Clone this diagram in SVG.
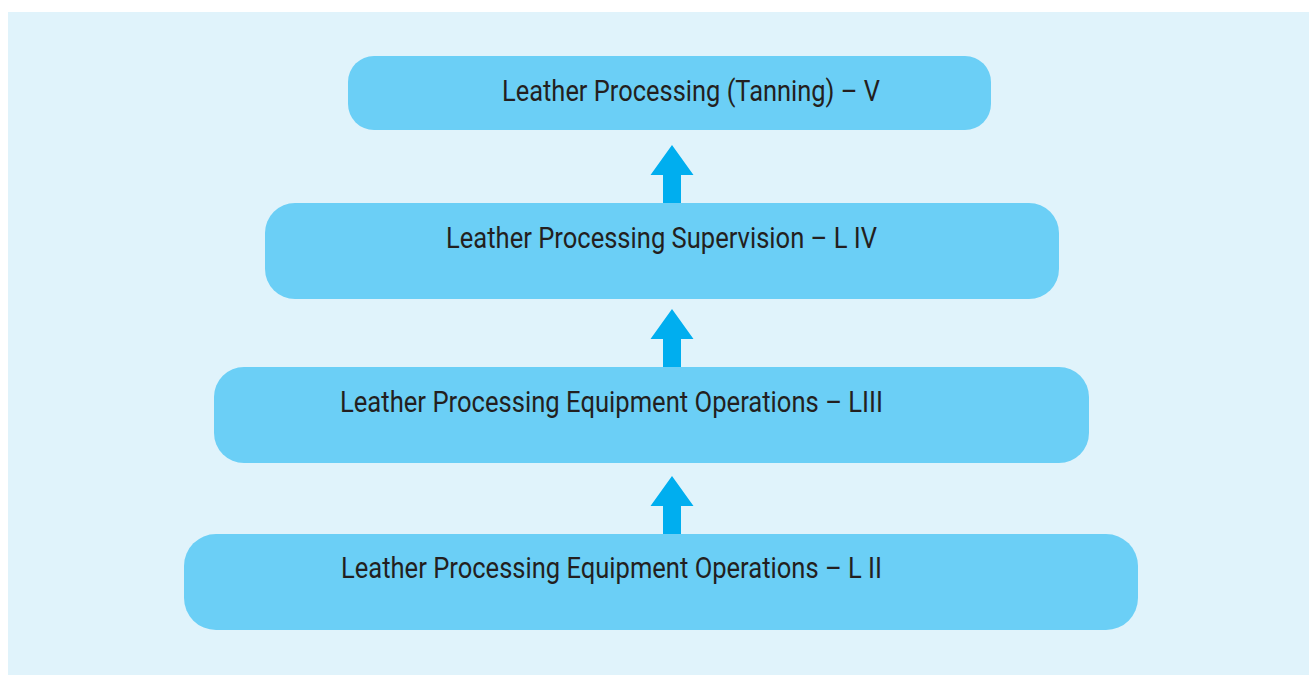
<svg xmlns="http://www.w3.org/2000/svg" width="1309" height="675" viewBox="0 0 1309 675">
<style>
.box{fill:#6BCFF6}
.lbl{font-family:Roboto,"Liberation Sans",sans-serif;font-size:29px;fill:#231F20}
.arr{fill:#00AEEF}
</style>
<rect x="0" y="0" width="1309" height="675" fill="#FFFFFF"/>
<rect x="8" y="12" width="1301" height="663" fill="#E0F3FB"/>
<g id="connectors">
<polygon class="arr" points="672,145 693.5,175 681,175 681,203 663,203 663,175 650.5,175"/>
<polygon class="arr" points="672,309 693.5,339 681,339 681,367 663,367 663,339 650.5,339"/>
<polygon class="arr" points="672,476 693.5,506 681,506 681,534 663,534 663,506 650.5,506"/>
</g>
<g id="node-v">
<rect class="box" x="348" y="56" width="643" height="74" rx="26"/>
<text class="lbl" x="502" y="101" textLength="378" lengthAdjust="spacingAndGlyphs">Leather Processing (Tanning) – V</text>
</g>
<g id="node-iv">
<rect class="box" x="265" y="203" width="794" height="96" rx="30"/>
<text class="lbl" x="446" y="248" textLength="431" lengthAdjust="spacingAndGlyphs">Leather Processing Supervision – L IV</text>
</g>
<g id="node-iii">
<rect class="box" x="214" y="367" width="875" height="96" rx="30"/>
<text class="lbl" x="340" y="412" textLength="543" lengthAdjust="spacingAndGlyphs">Leather Processing Equipment Operations – LIII</text>
</g>
<g id="node-ii">
<rect class="box" x="184" y="534" width="954" height="96" rx="32"/>
<text class="lbl" x="341" y="578" textLength="541" lengthAdjust="spacingAndGlyphs">Leather Processing Equipment Operations – L II</text>
</g>
</svg>
